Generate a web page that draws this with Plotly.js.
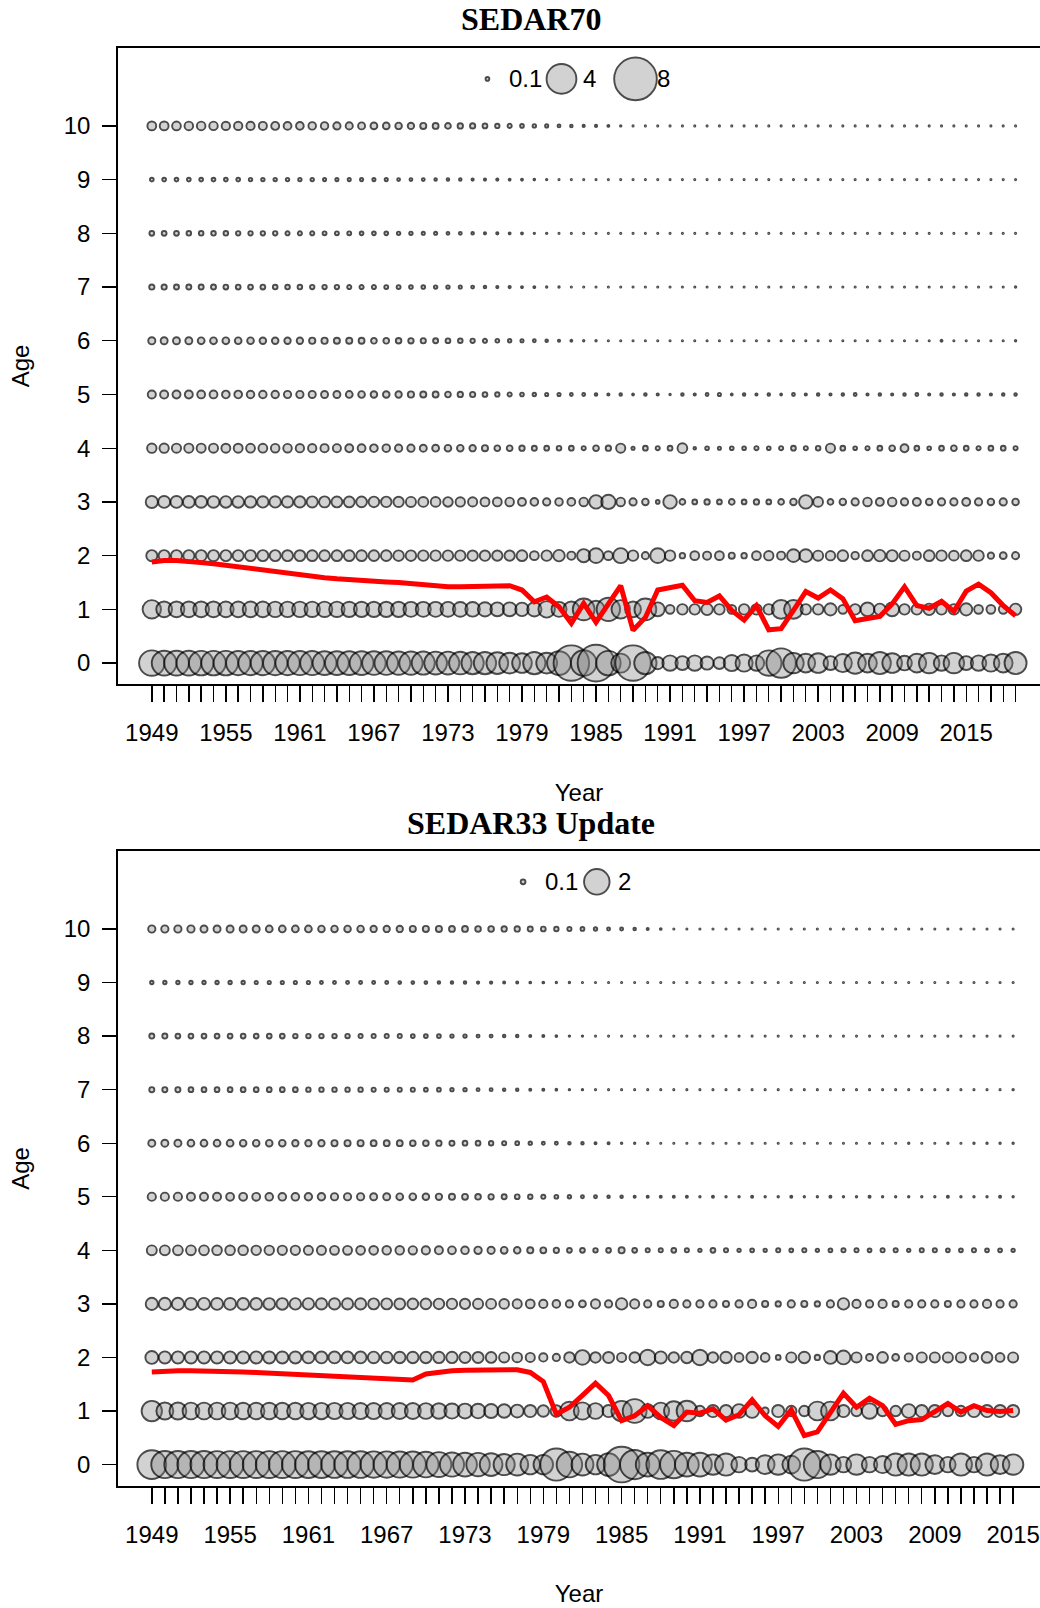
<!DOCTYPE html>
<html><head><meta charset="utf-8">
<script src="https://cdn.plot.ly/plotly-3.0.1.min.js"></script>
<style>body{margin:0;background:#fff}#chart{width:1040px;height:1608px}</style>
</head><body><div id="chart"></div>
<script>
const ages = [0,1,2,3,4,5,6,7,8,9,10];
const yearsTop = [1949,1950,1951,1952,1953,1954,1955,1956,1957,1958,
 1959,1960,1961,1962,1963,1964,1965,1966,1967,1968,
 1969,1970,1971,1972,1973,1974,1975,1976,1977,1978,
 1979,1980,1981,1982,1983,1984,1985,1986,1987,1988,
 1989,1990,1991,1992,1993,1994,1995,1996,1997,1998,
 1999,2000,2001,2002,2003,2004,2005,2006,2007,2008,
 2009,2010,2011,2012,2013,2014,2015,2016,2017,2018,2019];
const yearsBottom = [1949,1950,1951,1952,1953,1954,1955,1956,1957,1958,
 1959,1960,1961,1962,1963,1964,1965,1966,1967,1968,
 1969,1970,1971,1972,1973,1974,1975,1976,1977,1978,
 1979,1980,1981,1982,1983,1984,1985,1986,1987,1988,
 1989,1990,1991,1992,1993,1994,1995,1996,1997,1998,
 1999,2000,2001,2002,2003,2004,2005,2006,2007,2008,
 2009,2010,2011,2012,2013,2014,2015];

// ---- SEDAR70 (top) bubble values by age ----
const top_age0 = [2.96,2.8,2.8,2.8,2.75,2.75,2.75,2.7,2.7,2.7,
 2.7,2.7,2.65,2.65,2.6,2.6,2.6,2.6,2.55,2.55,
 2.5,2.5,2.45,2.4,2.4,2.35,2.3,2.3,2.2,2.0,
 1.8,2.3,2.0,2.6,5.6,3.0,6.0,2.75,1.7,5.6,
 2.3,0.75,1.15,0.95,1.15,0.85,0.7,1.25,1.4,1.15,
 2.95,3.9,1.95,1.65,1.8,0.95,1.55,2.1,1.65,2.25,
 1.8,1.05,1.65,1.95,1.15,1.95,0.95,1.15,1.4,1.65,2.25];
const top_age1 = [1.6,1.2,1.2,1.2,1.2,1.2,1.18,1.18,1.18,1.18,
 1.16,1.16,1.16,1.15,1.15,1.15,1.14,1.14,1.13,1.13,
 1.12,1.1,1.1,1.1,1.08,1.06,1.04,1.0,0.95,0.95,
 0.9,1.0,1.3,1.1,1.2,2.2,1.4,2.5,1.6,1.2,
 2.2,0.95,0.42,0.57,0.57,0.67,0.57,0.42,0.57,0.57,
 0.57,1.66,1.66,0.57,0.57,0.74,0.42,0.57,0.94,0.67,
 0.94,0.57,0.57,0.67,0.57,0.57,0.74,0.42,0.42,0.42,0.67];
const top_age2 = [0.63,0.63,0.63,0.63,0.63,0.63,0.62,0.62,0.62,0.62,
 0.62,0.61,0.61,0.6,0.6,0.6,0.6,0.6,0.59,0.59,
 0.58,0.58,0.57,0.57,0.57,0.57,0.56,0.56,0.55,0.55,
 0.6,0.42,0.57,0.67,0.36,0.85,1.05,0.42,1.1,0.57,
 0.29,1.07,0.57,0.185,0.42,0.36,0.42,0.22,0.185,0.42,
 0.47,0.36,0.82,0.82,0.53,0.47,0.6,0.31,0.6,0.67,
 0.63,0.53,0.36,0.6,0.57,0.5,0.6,0.57,0.24,0.27,0.29];
const top_age3 = [0.74,0.72,0.72,0.7,0.7,0.69,0.68,0.68,0.67,0.66,
 0.66,0.65,0.64,0.63,0.62,0.61,0.6,0.59,0.58,0.57,
 0.55,0.53,0.52,0.5,0.48,0.47,0.45,0.43,0.42,0.4,
 0.35,0.33,0.3,0.32,0.34,0.4,0.9,1.0,0.4,0.3,
 0.25,0.1,0.9,0.2,0.15,0.18,0.15,0.2,0.15,0.18,
 0.15,0.2,0.25,0.9,0.5,0.2,0.25,0.3,0.4,0.35,
 0.4,0.3,0.35,0.25,0.3,0.3,0.35,0.3,0.25,0.3,0.25];
const top_age4 = [0.47,0.46,0.45,0.45,0.44,0.44,0.43,0.43,0.42,0.42,
 0.4,0.4,0.38,0.38,0.37,0.36,0.35,0.34,0.33,0.32,
 0.3,0.3,0.28,0.27,0.26,0.25,0.24,0.22,0.2,0.2,
 0.18,0.16,0.15,0.14,0.15,0.12,0.2,0.18,0.45,0.08,
 0.15,0.12,0.15,0.5,0.06,0.1,0.08,0.1,0.1,0.12,
 0.1,0.12,0.15,0.12,0.14,0.45,0.15,0.1,0.12,0.15,
 0.2,0.35,0.15,0.1,0.15,0.2,0.15,0.12,0.15,0.15,0.12];
const top_age5 = [0.36,0.36,0.35,0.35,0.34,0.34,0.33,0.33,0.32,0.32,
 0.31,0.3,0.3,0.29,0.28,0.28,0.27,0.26,0.25,0.25,
 0.24,0.23,0.22,0.21,0.2,0.18,0.17,0.15,0.13,0.12,
 0.1,0.09,0.08,0.08,0.07,0.07,0.06,0.05,0.06,0.04,
 0.06,0.05,0.03,0.06,0.05,0.07,0.08,0.04,0.06,0.05,
 0.06,0.04,0.07,0.05,0.06,0.05,0.06,0.07,0.05,0.06,
 0.05,0.06,0.07,0.05,0.06,0.05,0.06,0.06,0.05,0.06,0.06];
const top_age6 = [0.29,0.28,0.28,0.28,0.27,0.27,0.27,0.26,0.26,0.25,
 0.25,0.24,0.24,0.23,0.23,0.22,0.22,0.21,0.2,0.2,
 0.19,0.18,0.17,0.16,0.15,0.14,0.13,0.12,0.1,0.09,
 0.08,0.07,0.06,0.05,0.04,0.03,0.03,0.02,0.02,0.02,
 0.02,0.02,0.015,0.02,0.02,0.015,0.02,0.02,0.015,0.02,
 0.02,0.02,0.015,0.02,0.02,0.02,0.015,0.02,0.02,0.02,
 0.02,0.02,0.02,0.02,0.04,0.02,0.02,0.02,0.02,0.02,0.03];
const top_age7 = [0.17,0.17,0.16,0.16,0.16,0.16,0.15,0.15,0.15,0.15,
 0.14,0.14,0.14,0.13,0.13,0.13,0.12,0.12,0.12,0.11,
 0.11,0.1,0.1,0.09,0.09,0.08,0.07,0.06,0.05,0.05,
 0.04,0.04,0.03,0.03,0.02,0.02,0.015,0.015,0.015,0.015,
 0.015,0.015,0.015,0.015,0.015,0.015,0.015,0.015,0.015,0.015,
 0.015,0.015,0.015,0.015,0.015,0.015,0.015,0.015,0.015,0.015,
 0.015,0.015,0.015,0.015,0.015,0.015,0.015,0.015,0.015,0.015,0.03];
const top_age8 = [0.15,0.15,0.15,0.14,0.14,0.14,0.14,0.13,0.13,0.13,
 0.13,0.12,0.12,0.12,0.11,0.11,0.11,0.1,0.1,0.1,
 0.09,0.09,0.08,0.08,0.07,0.07,0.06,0.05,0.05,0.04,
 0.04,0.03,0.03,0.02,0.02,0.015,0.015,0.015,0.012,0.012,
 0.012,0.012,0.012,0.012,0.012,0.012,0.012,0.012,0.012,0.012,
 0.012,0.012,0.012,0.012,0.012,0.012,0.012,0.012,0.012,0.012,
 0.012,0.012,0.012,0.012,0.012,0.012,0.012,0.012,0.012,0.012,0.012];
const top_age9 = [0.1,0.1,0.1,0.1,0.1,0.1,0.1,0.1,0.09,0.09,
 0.09,0.09,0.09,0.09,0.08,0.08,0.08,0.08,0.08,0.08,
 0.07,0.07,0.07,0.06,0.06,0.06,0.05,0.05,0.05,0.04,
 0.04,0.035,0.03,0.02,0.015,0.012,0.012,0.012,0.012,0.012,
 0.012,0.012,0.012,0.012,0.012,0.012,0.012,0.012,0.012,0.012,
 0.012,0.012,0.012,0.012,0.012,0.012,0.012,0.012,0.012,0.012,
 0.012,0.012,0.012,0.012,0.012,0.012,0.012,0.012,0.012,0.012,0.012];
const top_age10 = [0.42,0.42,0.41,0.4,0.4,0.39,0.38,0.38,0.37,0.36,
 0.35,0.34,0.33,0.32,0.31,0.3,0.29,0.28,0.27,0.26,
 0.25,0.24,0.22,0.21,0.2,0.18,0.17,0.15,0.13,0.12,
 0.1,0.09,0.08,0.07,0.06,0.05,0.05,0.04,0.03,0.02,
 0.015,0.015,0.015,0.015,0.015,0.015,0.015,0.015,0.015,0.015,
 0.015,0.015,0.015,0.015,0.015,0.015,0.015,0.015,0.015,0.015,
 0.015,0.015,0.015,0.015,0.015,0.015,0.015,0.015,0.015,0.015,0.015];

// ---- SEDAR33 Update (bottom) bubble values by age ----
const bottom_age0 = [2.52,2.25,2.25,2.25,2.25,2.22,2.22,2.2,2.2,2.2,
 2.2,2.2,2.18,2.18,2.15,2.15,2.15,2.12,2.12,2.1,
 2.1,2.0,1.9,1.8,1.75,1.7,1.6,1.4,1.5,1.2,
 1.2,3.1,2.0,1.5,1.2,1.6,3.8,2.6,1.75,2.5,
 2.3,1.75,1.75,1.31,1.52,0.78,0.63,1.12,1.31,1.0,
 3.1,2.25,1.31,0.78,1.31,0.78,0.94,1.52,1.52,1.52,
 1.12,0.78,1.52,0.78,1.52,1.12,1.31];
const bottom_age1 = [1.3,0.92,0.92,0.9,0.9,0.9,0.9,0.88,0.88,0.88,
 0.87,0.87,0.86,0.86,0.85,0.85,0.84,0.84,0.83,0.83,
 0.82,0.8,0.78,0.75,0.72,0.7,0.65,0.6,0.55,0.5,
 0.45,0.45,1.1,0.95,0.8,0.5,1.3,1.75,0.63,0.9,
 1.2,1.31,0.38,0.5,0.5,0.63,0.63,0.19,0.5,0.38,
 0.38,1.12,1.12,0.5,0.38,0.78,0.38,0.38,0.63,0.5,
 0.5,0.38,0.38,0.5,0.5,0.5,0.5];
const bottom_age2 = [0.55,0.5,0.5,0.5,0.5,0.5,0.5,0.5,0.5,0.49,
 0.49,0.49,0.48,0.48,0.48,0.47,0.47,0.46,0.46,0.45,
 0.45,0.45,0.44,0.44,0.43,0.42,0.4,0.36,0.33,0.3,
 0.25,0.2,0.38,0.7,0.38,0.42,0.3,0.38,0.78,0.5,
 0.38,0.45,0.78,0.38,0.45,0.28,0.45,0.28,0.1,0.36,
 0.45,0.12,0.55,0.63,0.36,0.19,0.4,0.18,0.24,0.36,
 0.36,0.36,0.36,0.24,0.4,0.28,0.36];
const bottom_age3 = [0.5,0.5,0.5,0.49,0.49,0.48,0.48,0.47,0.47,0.46,
 0.46,0.45,0.45,0.44,0.44,0.43,0.43,0.42,0.42,0.41,
 0.4,0.4,0.39,0.38,0.37,0.36,0.35,0.33,0.3,0.28,
 0.25,0.22,0.2,0.18,0.3,0.2,0.45,0.3,0.2,0.15,
 0.25,0.2,0.2,0.2,0.15,0.2,0.25,0.15,0.12,0.2,
 0.15,0.12,0.2,0.45,0.25,0.2,0.25,0.15,0.2,0.2,
 0.2,0.15,0.2,0.2,0.25,0.2,0.2];
const bottom_age4 = [0.35,0.35,0.34,0.34,0.34,0.33,0.33,0.33,0.32,0.32,
 0.31,0.31,0.3,0.3,0.29,0.29,0.28,0.28,0.27,0.27,
 0.26,0.25,0.24,0.23,0.22,0.21,0.2,0.18,0.17,0.15,
 0.14,0.12,0.1,0.1,0.09,0.1,0.15,0.1,0.08,0.08,
 0.1,0.08,0.06,0.1,0.08,0.06,0.07,0.06,0.08,0.07,
 0.08,0.06,0.07,0.08,0.08,0.07,0.08,0.08,0.06,0.08,
 0.08,0.07,0.07,0.08,0.07,0.07,0.06];
const bottom_age5 = [0.25,0.25,0.25,0.24,0.24,0.24,0.23,0.23,0.23,0.22,
 0.22,0.22,0.21,0.21,0.2,0.2,0.2,0.19,0.19,0.18,
 0.18,0.17,0.16,0.15,0.14,0.13,0.12,0.11,0.1,0.09,
 0.08,0.07,0.06,0.05,0.05,0.04,0.04,0.03,0.03,0.03,
 0.03,0.03,0.02,0.03,0.02,0.02,0.03,0.02,0.02,0.03,
 0.02,0.02,0.03,0.02,0.02,0.03,0.02,0.02,0.02,0.02,
 0.02,0.03,0.02,0.02,0.02,0.03,0.02];
const bottom_age6 = [0.19,0.19,0.19,0.18,0.18,0.18,0.18,0.17,0.17,0.17,
 0.17,0.16,0.16,0.16,0.15,0.15,0.15,0.14,0.14,0.14,
 0.13,0.13,0.12,0.11,0.1,0.1,0.09,0.08,0.07,0.06,
 0.05,0.05,0.04,0.04,0.03,0.03,0.02,0.02,0.02,0.015,
 0.015,0.015,0.015,0.015,0.015,0.015,0.015,0.015,0.015,0.015,
 0.015,0.015,0.015,0.015,0.015,0.015,0.015,0.015,0.02,0.015,
 0.015,0.02,0.015,0.02,0.02,0.02,0.02];
const bottom_age7 = [0.11,0.11,0.11,0.1,0.1,0.1,0.1,0.1,0.1,0.1,
 0.1,0.1,0.09,0.09,0.09,0.09,0.09,0.08,0.08,0.08,
 0.08,0.07,0.07,0.06,0.06,0.05,0.05,0.04,0.04,0.03,
 0.03,0.025,0.02,0.02,0.015,0.015,0.012,0.012,0.012,0.012,
 0.01,0.01,0.01,0.01,0.01,0.01,0.01,0.01,0.01,0.01,
 0.01,0.01,0.01,0.01,0.01,0.01,0.01,0.01,0.01,0.01,
 0.01,0.01,0.01,0.01,0.01,0.01,0.02];
const bottom_age8 = [0.11,0.11,0.1,0.1,0.1,0.1,0.1,0.1,0.1,0.1,
 0.1,0.09,0.09,0.09,0.09,0.09,0.08,0.08,0.08,0.08,
 0.07,0.07,0.07,0.06,0.06,0.05,0.05,0.04,0.04,0.03,
 0.03,0.025,0.02,0.02,0.015,0.015,0.012,0.012,0.012,0.012,
 0.01,0.01,0.01,0.01,0.01,0.01,0.01,0.01,0.01,0.01,
 0.01,0.01,0.01,0.01,0.01,0.01,0.01,0.01,0.01,0.01,
 0.01,0.01,0.01,0.01,0.01,0.01,0.01];
const bottom_age9 = [0.06,0.06,0.06,0.06,0.06,0.06,0.06,0.06,0.055,0.055,
 0.055,0.055,0.055,0.05,0.05,0.05,0.05,0.05,0.05,0.045,
 0.045,0.045,0.04,0.04,0.04,0.035,0.035,0.03,0.03,0.025,
 0.025,0.02,0.02,0.015,0.012,0.01,0.01,0.01,0.01,0.01,
 0.01,0.01,0.01,0.01,0.01,0.01,0.01,0.01,0.01,0.01,
 0.01,0.01,0.01,0.01,0.01,0.01,0.01,0.01,0.01,0.01,
 0.01,0.01,0.01,0.01,0.01,0.01,0.01];
const bottom_age10 = [0.2,0.2,0.2,0.2,0.19,0.19,0.19,0.19,0.19,0.18,
 0.18,0.18,0.18,0.17,0.17,0.17,0.17,0.16,0.16,0.16,
 0.15,0.15,0.15,0.14,0.14,0.13,0.13,0.12,0.12,0.11,
 0.1,0.09,0.08,0.07,0.06,0.05,0.05,0.04,0.03,0.025,
 0.015,0.015,0.015,0.015,0.015,0.015,0.015,0.015,0.015,0.015,
 0.015,0.015,0.015,0.015,0.015,0.015,0.015,0.015,0.015,0.015,
 0.015,0.015,0.015,0.015,0.015,0.015,0.015];

// ---- red lines ----
const redTop = [1.88,1.91,1.91,1.9,1.87,1.85,1.82,1.78,1.75,1.72,
 1.69,1.66,1.64,1.61,1.59,1.57,1.55,1.53,1.52,1.51,
 1.5,1.48,1.45,1.44,1.42,1.42,1.42,1.42,1.44,1.44,
 1.36,1.14,1.23,1.05,0.74,1.11,0.76,1.1,1.44,0.61,
 0.85,1.36,1.4,1.45,1.16,1.13,1.25,0.98,0.8,1.07,
 0.62,0.64,0.98,1.33,1.21,1.36,1.2,0.79,0.83,0.87,
 1.1,1.42,1.07,1.02,1.15,0.96,1.34,1.47,1.31,1.07,0.88];
const redBottom = [1.73,1.75,1.75,1.75,1.75,1.75,1.74,1.73,1.72,1.71,
 1.7,1.69,1.68,1.66,1.65,1.64,1.63,1.62,1.61,1.6,
 1.58,1.69,1.73,1.75,1.76,1.76,1.77,1.77,1.77,1.72,
 1.55,0.94,1.07,1.29,1.52,1.29,0.82,0.91,1.1,0.88,
 0.73,0.98,0.96,1.04,0.83,0.93,1.21,0.91,0.71,1.02,
 0.54,0.61,0.98,1.33,1.07,1.24,1.1,0.75,0.82,0.84,
 0.99,1.14,0.98,1.1,1.01,0.99,1.01];

const legendTop = [0.1, 4, 8];
const legendBottom = [0.1, 2];

// ---- styling / layout constants ----
const FONT = 'Liberation Sans, Arial, sans-serif';
const KTOP = 15.5, KBOT = 18.9;
const FILL = 'rgba(128,128,128,0.5)';
const OUTLINE = {color:'#000', width:1.9};
function sz(v, k){ return Math.max(1.2, k*Math.sqrt(v) - 1.2); }

const topRows = [top_age0,top_age1,top_age2,top_age3,top_age4,top_age5,top_age6,top_age7,top_age8,top_age9,top_age10];
const botRows = [bottom_age0,bottom_age1,bottom_age2,bottom_age3,bottom_age4,bottom_age5,bottom_age6,bottom_age7,bottom_age8,bottom_age9,bottom_age10];

function bubbles(years, rows, k, xa, ya){
  return rows.map((vals,i)=>({
    type:'scatter', mode:'markers', x:years, y:years.map(()=>ages[i]),
    xaxis:xa, yaxis:ya, showlegend:false, hoverinfo:'skip',
    marker:{size:vals.map(v=>sz(v,k)), color:FILL, line:OUTLINE}
  }));
}

const traces = [];
traces.push(...bubbles(yearsTop, topRows, KTOP, 'x', 'y'));
traces.push(...bubbles(yearsBottom, botRows, KBOT, 'x2', 'y2'));
traces.push({type:'scatter', mode:'lines', x:yearsTop, y:redTop, xaxis:'x', yaxis:'y',
  line:{color:'#FF0000', width:5}, showlegend:false, hoverinfo:'skip'});
traces.push({type:'scatter', mode:'lines', x:yearsBottom, y:redBottom, xaxis:'x2', yaxis:'y2',
  line:{color:'#FF0000', width:5}, showlegend:false, hoverinfo:'skip'});

// legend bubbles
const legTopX = [1976.2, 1982.2, 1988.2], legTopY = 10.875;
const legBotX = [1977.45, 1983.1], legBotY = 10.88;
traces.push({type:'scatter', mode:'markers', x:legTopX, y:legendTop.map(()=>legTopY), xaxis:'x', yaxis:'y',
  marker:{size:legendTop.map(v=>sz(v,KTOP)), color:FILL, line:OUTLINE}, showlegend:false, hoverinfo:'skip'});
traces.push({type:'scatter', mode:'markers', x:legBotX, y:legendBottom.map(()=>legBotY), xaxis:'x2', yaxis:'y2',
  marker:{size:legendBottom.map(v=>sz(v,KBOT)), color:FILL, line:OUTLINE}, showlegend:false, hoverinfo:'skip'});

const annotations = [];
legendTop.forEach((v,i)=>annotations.push({xref:'x', yref:'y', x:legTopX[i]+1.6, y:legTopY, text:String(v),
  showarrow:false, xanchor:'left', yanchor:'middle', font:{family:FONT, size:24, color:'#000'}}));
legendBottom.forEach((v,i)=>annotations.push({xref:'x2', yref:'y2', x:legBotX[i]+1.5, y:legBotY, text:String(v),
  showarrow:false, xanchor:'left', yanchor:'middle', font:{family:FONT, size:24, color:'#000'}}));
annotations.push({xref:'paper', yref:'paper', x:0.448, y:1.0202, text:'<b>SEDAR70</b>', showarrow:false,
  xanchor:'center', yanchor:'middle', font:{family:'Liberation Serif, Times New Roman, serif', size:32, color:'#000'}});
annotations.push({xref:'paper', yref:'paper', x:0.448, y:0.461, text:'<b>SEDAR33 Update</b>', showarrow:false,
  xanchor:'center', yanchor:'middle', font:{family:'Liberation Serif, Times New Roman, serif', size:32, color:'#000'}});

function xAxis(years, range, anchor){
  return {domain:[0,1], anchor:anchor, range:range, tickmode:'array', tickvals:years,
    ticktext:years.map(y=>((y-1949)%6===0)?String(y):''),
    ticks:'outside', ticklen:16, tickwidth:1.4, tickcolor:'#000', ticklabelstandoff:10,
    showline:true, mirror:true, linecolor:'#000', linewidth:1.8, showgrid:false, zeroline:false,
    tickfont:{family:FONT, size:24, color:'#000'}, automargin:false,
    title:{text:'Year', font:{family:FONT, size:24, color:'#000'}, standoff:39}};
}
function yAxis(domain, range, anchor){
  return {domain:domain, anchor:anchor, range:range, tickmode:'array', tickvals:ages, ticktext:ages.map(String),
    ticks:'outside', ticklen:14, tickwidth:1.4, tickcolor:'#000', ticklabelstandoff:7,
    showline:true, mirror:false, linecolor:'#000', linewidth:1.8, showgrid:false, zeroline:false,
    tickfont:{family:FONT, size:24, color:'#000'}, automargin:false,
    title:{text:'Age', font:{family:FONT, size:24, color:'#000'}, standoff:27}};
}

const layout = {
  width:1040, height:1608, paper_bgcolor:'#fff', plot_bgcolor:'#fff',
  margin:{l:118, r:0, t:48, b:122},
  showlegend:false,
  xaxis: xAxis(yearsTop, [1946.26, 2020.98], 'y'),
  yaxis: yAxis([0.5577, 1], [-0.39, 11.45], 'x'),
  xaxis2: xAxis(yearsBottom, [1946.41, 2017.06], 'y2'),
  yaxis2: yAxis([0, 0.4416], [-0.40, 11.456], 'x2'),
  annotations: annotations
};

Plotly.newPlot('chart', traces, layout, {displayModeBar:false, staticPlot:true});
</script>
</body></html>
